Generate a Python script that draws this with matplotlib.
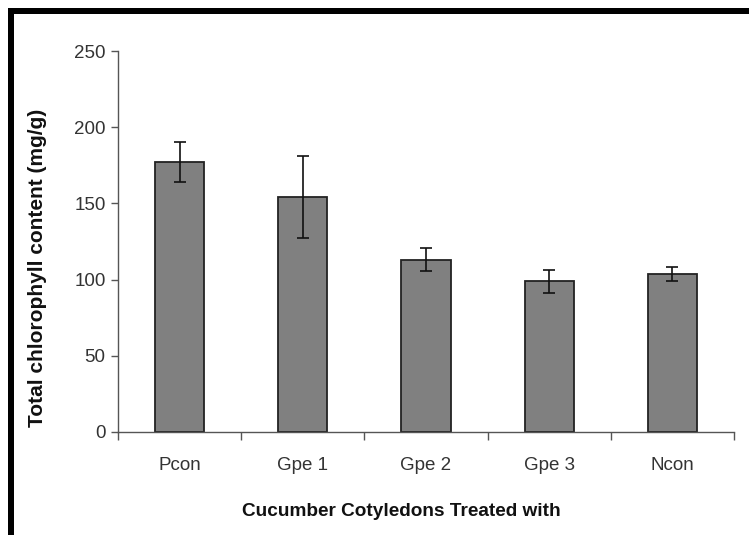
import matplotlib
matplotlib.use('Agg')
import matplotlib.pyplot as plt
from matplotlib.patches import Rectangle
import numpy as np

# data
groups = ['Pcon', 'Gpe 1', 'Gpe 2', 'Gpe 3', 'Ncon']
chlorophyll = [177, 154, 113, 99, 103.5]
errors = [13, 27, 7.5, 7.5, 4.7]
yticks = [0, 50, 100, 150, 200, 250]

W, H = 749, 535
plt.rcParams['font.family'] = ['Liberation Sans', 'DejaVu Sans']

fig = plt.figure(figsize=(W / 100, H / 100), dpi=100)
fig.patch.set_facecolor('white')

ax = fig.add_axes([118 / W, 1 - 432 / H, (734 - 118) / W, (432 - 51) / H])
x = np.arange(len(groups))
ax.bar(x, chlorophyll, width=0.4, color='#808080', edgecolor='#222222',
       linewidth=1.3, zorder=2)
ax.errorbar(x, chlorophyll, yerr=errors, fmt='none', ecolor='#111111',
            elinewidth=1.2, capsize=4, capthick=1.2, zorder=3)

ax.set_xlim(-0.5, len(groups) - 0.5)
ax.set_ylim(0, 250)
ax.set_yticks(yticks)
ax.set_xticks(x)
ax.set_xticklabels(groups)
ax.set_xticks(np.arange(-0.5, len(groups)), minor=True)
ax.tick_params(axis='x', which='major', length=0, pad=18, labelsize=13.5,
               labelcolor='#333333')
ax.tick_params(axis='x', which='minor', length=6, width=1, color='#555555',
               direction='out')
ax.tick_params(axis='y', length=5, width=1, color='#555555', pad=4,
               labelsize=13.5, labelcolor='#333333')

for s in ['top', 'right']:
    ax.spines[s].set_visible(False)
for s in ['left', 'bottom']:
    ax.spines[s].set_color('#555555')
    ax.spines[s].set_linewidth(1)

fig.text(401 / W, 1 - 512 / H, 'Cucumber Cotyledons Treated with',
         ha='center', va='center', fontsize=13.7, fontweight='bold',
         color='#111111')
fig.text(38 / W, 1 - 268 / H, 'Total chlorophyll content (mg/g)',
         ha='center', va='center', rotation=90, fontsize=15,
         fontweight='bold', color='#111111')

# black frame on top and left
fig.add_artist(Rectangle((8 / W, 1 - 14 / H), (W - 8) / W, 6 / H,
                         transform=fig.transFigure, color='black', lw=0))
fig.add_artist(Rectangle((8 / W, 0), 6 / W, 1 - 8 / H,
                         transform=fig.transFigure, color='black', lw=0))

fig.savefig('out.png', dpi=100)
